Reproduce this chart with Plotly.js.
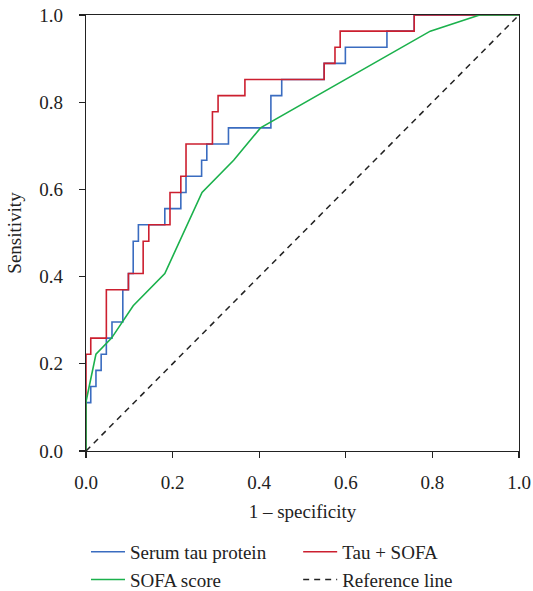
<!DOCTYPE html>
<html>
<head>
<meta charset="utf-8">
<script src="https://cdn.plot.ly/plotly-3.0.1.min.js"></script>
<style>html,body{margin:0;padding:0;background:#fff;}#chart{width:533px;height:591px;}</style>
</head>
<body>
<div id="chart"></div>
<script>
// Serum tau protein ROC (1 - specificity, sensitivity)
const tauX = [0, 0, 0.011, 0.023, 0.035, 0.047, 0.060, 0.085, 0.098, 0.109, 0.121, 0.182, 0.219, 0.231, 0.267, 0.279, 0.329, 0.427, 0.452, 0.550, 0.599, 0.695, 0.758, 1.0];
const tauY = [0, 0.111, 0.148, 0.185, 0.222, 0.259, 0.296, 0.370, 0.407, 0.481, 0.519, 0.556, 0.593, 0.630, 0.667, 0.704, 0.741, 0.815, 0.852, 0.889, 0.926, 0.963, 1.0, 1.0];
// Tau + SOFA ROC
const comboX = [0, 0, 0.011, 0.047, 0.098, 0.132, 0.145, 0.194, 0.219, 0.231, 0.292, 0.305, 0.367, 0.550, 0.575, 0.587, 0.758, 1.0];
const comboY = [0, 0.222, 0.259, 0.370, 0.407, 0.481, 0.519, 0.593, 0.630, 0.704, 0.778, 0.815, 0.852, 0.889, 0.926, 0.963, 1.0, 1.0];
// SOFA score ROC
const sofaX = [0, 0, 0.023, 0.059, 0.109, 0.182, 0.268, 0.341, 0.403, 0.795, 0.909, 1.0];
const sofaY = [0, 0.113, 0.222, 0.259, 0.333, 0.407, 0.593, 0.667, 0.741, 0.963, 1.0, 1.0];
// Reference line
const refX = [0, 1];
const refY = [0, 1];
const tickVals = [0, 0.2, 0.4, 0.6, 0.8, 1.0];
const tickText = ["0.0", "0.2", "0.4", "0.6", "0.8", "1.0"];

const FONT = "Liberation Serif, Times New Roman, serif";
const traces = [
  {x: tauX, y: tauY, mode: "lines", name: "Serum tau protein", legend: "legend", line: {color: "#3a6cc0", width: 1.6, shape: "hv"}},
  {x: comboX, y: comboY, mode: "lines", name: "Tau + SOFA", legend: "legend2", line: {color: "#cc1f2f", width: 1.6, shape: "hv"}},
  {x: sofaX, y: sofaY, mode: "lines", name: "SOFA score", legend: "legend", line: {color: "#1bb14c", width: 1.6}},
  {x: refX, y: refY, mode: "lines", name: "Reference line", legend: "legend2", line: {color: "#222222", width: 1.5, dash: "6px,5px"}}
];
const axisCommon = {
  range: [0, 1], tickvals: tickVals, ticktext: tickText, ticks: "outside", ticklen: 6, tickwidth: 1.3,
  tickcolor: "#222", showline: true, linecolor: "#222", linewidth: 1.3, mirror: true,
  showgrid: false, zeroline: false, tickfont: {family: FONT, size: 19, color: "#222"}
};
const legendCommon = {orientation: "v", xanchor: "left", y: -0.188, yanchor: "top", itemwidth: 34,
  font: {family: FONT, size: 19, color: "#222"}, traceorder: "normal", bgcolor: "rgba(0,0,0,0)"};
const layout = {
  width: 533, height: 591,
  margin: {l: 86, r: 14, t: 15, b: 140, autoexpand: false},
  paper_bgcolor: "#fff", plot_bgcolor: "#fff",
  font: {family: FONT, size: 19, color: "#222"},
  xaxis: Object.assign({}, axisCommon, {title: {text: "1 \u2013 specificity", font: {family: FONT, size: 19, color: "#222"}, standoff: 12}, ticklabelstandoff: 8}),
  yaxis: Object.assign({}, axisCommon, {title: {text: "Sensitivity", font: {family: FONT, size: 19, color: "#222"}, standoff: 12}, ticklabelstandoff: 12}),
  showlegend: true,
  legend: Object.assign({}, legendCommon, {x: 0}),
  legend2: Object.assign({}, legendCommon, {x: 0.49})
};
Plotly.newPlot("chart", traces, layout, {displayModeBar: false, staticPlot: true});
</script>
</body>
</html>
